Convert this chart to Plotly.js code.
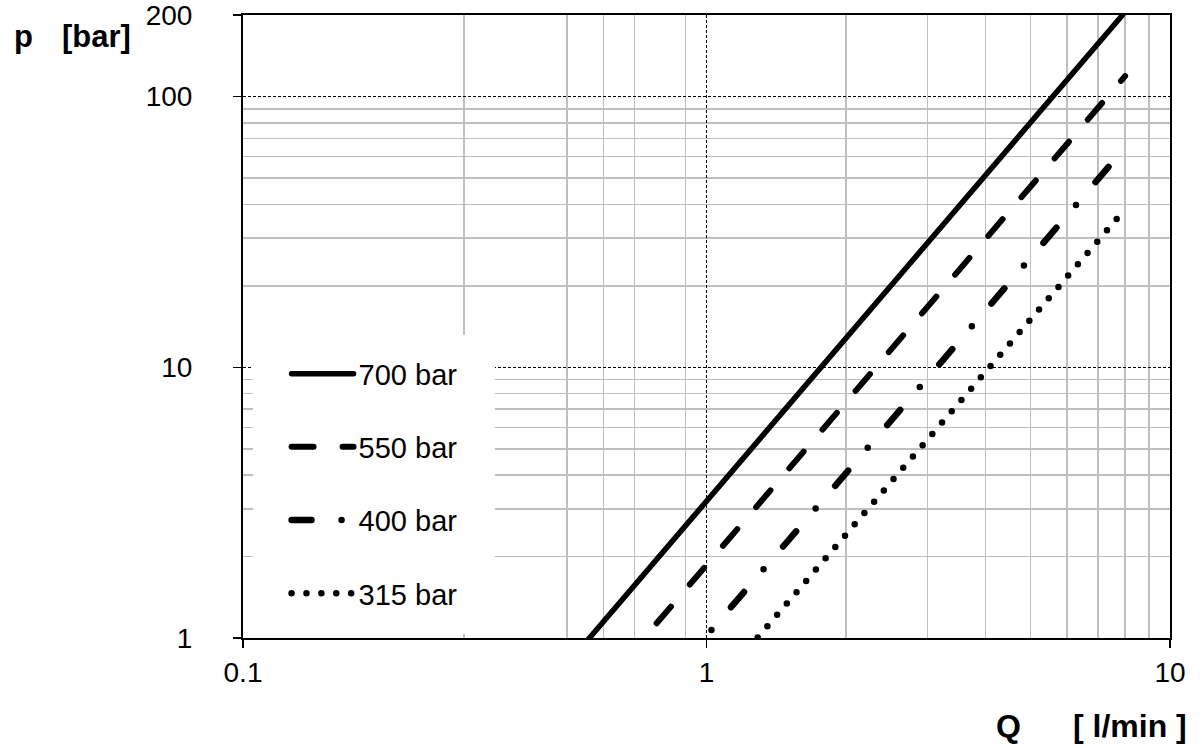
<!DOCTYPE html>
<html>
<head>
<meta charset="utf-8">
<script src="https://cdn.plot.ly/plotly-3.0.1.min.js"></script>
<style>
html,body{margin:0;padding:0;background:#ffffff;}
#chart{width:1202px;height:749px;}
.js-line{stroke-linecap:round !important;}
</style>
</head>
<body>
<div id="chart"></div>
<script>
// ---- data ----
const seriesNames = ['700 bar', '550 bar', '400 bar', '315 bar'];
const q700 = [0.5, 1, 2, 4, 7.9];
const p700 = [0.8, 3.2, 12.9, 51.5, 200];
const q550 = [0.662, 1, 2, 4, 8.0];
const p550 = [0.815, 1.86, 7.4, 29.8, 119];
const q400 = [0.872, 1, 2, 4, 7.7];
const p400 = [0.775, 1.02, 4.1, 16.3, 60];
const q315 = [1.171, 2, 4, 7.75];
const p315 = [0.829, 2.4, 9.7, 36];
const xTickVals = [0.1, 1, 10];
const xTickText = ['0.1', '1', '10'];
const xMinorVals = [0.3, 0.5, 0.6, 0.7, 0.9, 2, 3, 4, 5, 6, 7, 8, 9];
const yTickVals = [1, 10, 100, 200];
const yTickText = ['1', '10', '100', '200'];
const yMinorVals = [2, 3, 4, 5, 6, 7, 8, 9, 20, 30, 40, 50, 60, 70, 80, 90];

const FONT = 'Liberation Sans, Arial, Helvetica, sans-serif';

const lineStyles = [
  {width: 5.5, dash: 'solid'},
  {width: 6, dash: '22px,29px'},
  {width: 6.5, dash: '20px,30px,0px,30px'},
  {width: 6.5, dash: '0px,14.9px'}
];
const xs = [q700, q550, q400, q315];
const ys = [p700, p550, p400, p315];

const traces = seriesNames.map((name, i) => ({
  type: 'scatter',
  mode: 'lines',
  name: name,
  x: xs[i],
  y: ys[i],
  legendgroup: 'g' + i,
  line: {color: '#000000', width: lineStyles[i].width, dash: lineStyles[i].dash},
  hoverinfo: 'skip'
}));

const layout = {
  width: 1202,
  height: 749,
  margin: {l: 243, r: 32, t: 15, b: 111, pad: 0},
  paper_bgcolor: '#ffffff',
  plot_bgcolor: '#ffffff',
  font: {family: FONT, size: 28, color: '#000000'},
  showlegend: true,
  legend: {
    x: 0.047, y: 0.465, xanchor: 'left', yanchor: 'top',
    bgcolor: 'rgba(0,0,0,0)', borderwidth: 0,
    font: {family: FONT, size: 29, color: '#000000'},
    itemwidth: 62,
    traceorder: 'grouped',
    tracegroupgap: 32.5
  },
  xaxis: {
    type: 'log',
    range: [-1, 1],
    tickmode: 'array',
    tickvals: xTickVals,
    ticktext: xTickText,
    ticks: 'outside', ticklen: 8, tickwidth: 1.5, tickcolor: '#000000',
    ticklabelstandoff: 0,
    ticklabeloverflow: 'allow',
    showline: true, mirror: true, linecolor: '#000000', linewidth: 2,
    showgrid: true, gridcolor: '#000000', gridwidth: 1, griddash: '3px,2px',
    minor: {tickmode: 'array', tickvals: xMinorVals, showgrid: true, gridcolor: '#bfbfbf', gridwidth: 1.5, griddash: 'solid', ticks: ''},
    tickfont: {family: FONT, size: 28, color: '#000000'},
    zeroline: false,
    fixedrange: true
  },
  yaxis: {
    type: 'log',
    range: [0, Math.log10(200.1)],
    tickmode: 'array',
    tickvals: yTickVals,
    ticktext: yTickText,
    ticks: 'outside', ticklen: 8, tickwidth: 1.5, tickcolor: '#000000',
    ticklabelstandoff: 35,
    ticklabeloverflow: 'allow',
    showline: true, mirror: true, linecolor: '#000000', linewidth: 2,
    showgrid: true, gridcolor: '#000000', gridwidth: 1, griddash: '3px,2px',
    minor: {tickmode: 'array', tickvals: yMinorVals, showgrid: true, gridcolor: '#bfbfbf', gridwidth: 1.5, griddash: 'solid', ticks: ''},
    tickfont: {family: FONT, size: 28, color: '#000000'},
    zeroline: false,
    fixedrange: true
  },
  shapes: [
    {type: 'rect', xref: 'paper', yref: 'paper', layer: 'above',
     x0: 0.0108, x1: 0.2718, y0: 0.0064, y1: 0.4864,
     fillcolor: '#ffffff', line: {width: 0}}
  ],
  annotations: [
    {text: '<b>p</b>', xref: 'paper', yref: 'paper', x: -0.2492, y: 0.966, xanchor: 'left', yanchor: 'middle', showarrow: false, font: {family: FONT, size: 31, color: '#000000'}},
    {text: '<b>[bar]</b>', xref: 'paper', yref: 'paper', x: -0.1975, y: 0.966, xanchor: 'left', yanchor: 'middle', showarrow: false, font: {family: FONT, size: 31, color: '#000000'}},
    {text: '<b>Q</b>', xref: 'paper', yref: 'paper', x: 0.810, y: -0.1413, xanchor: 'left', yanchor: 'middle', showarrow: false, font: {family: FONT, size: 32, color: '#000000'}},
    {text: '<b>[ l/min ]</b>', xref: 'paper', yref: 'paper', x: 1.0205, y: -0.1413, xanchor: 'right', yanchor: 'middle', showarrow: false, font: {family: FONT, size: 32, color: '#000000'}}
  ]
};

Plotly.newPlot('chart', traces, layout, {displayModeBar: false, staticPlot: true});
</script>
</body>
</html>
